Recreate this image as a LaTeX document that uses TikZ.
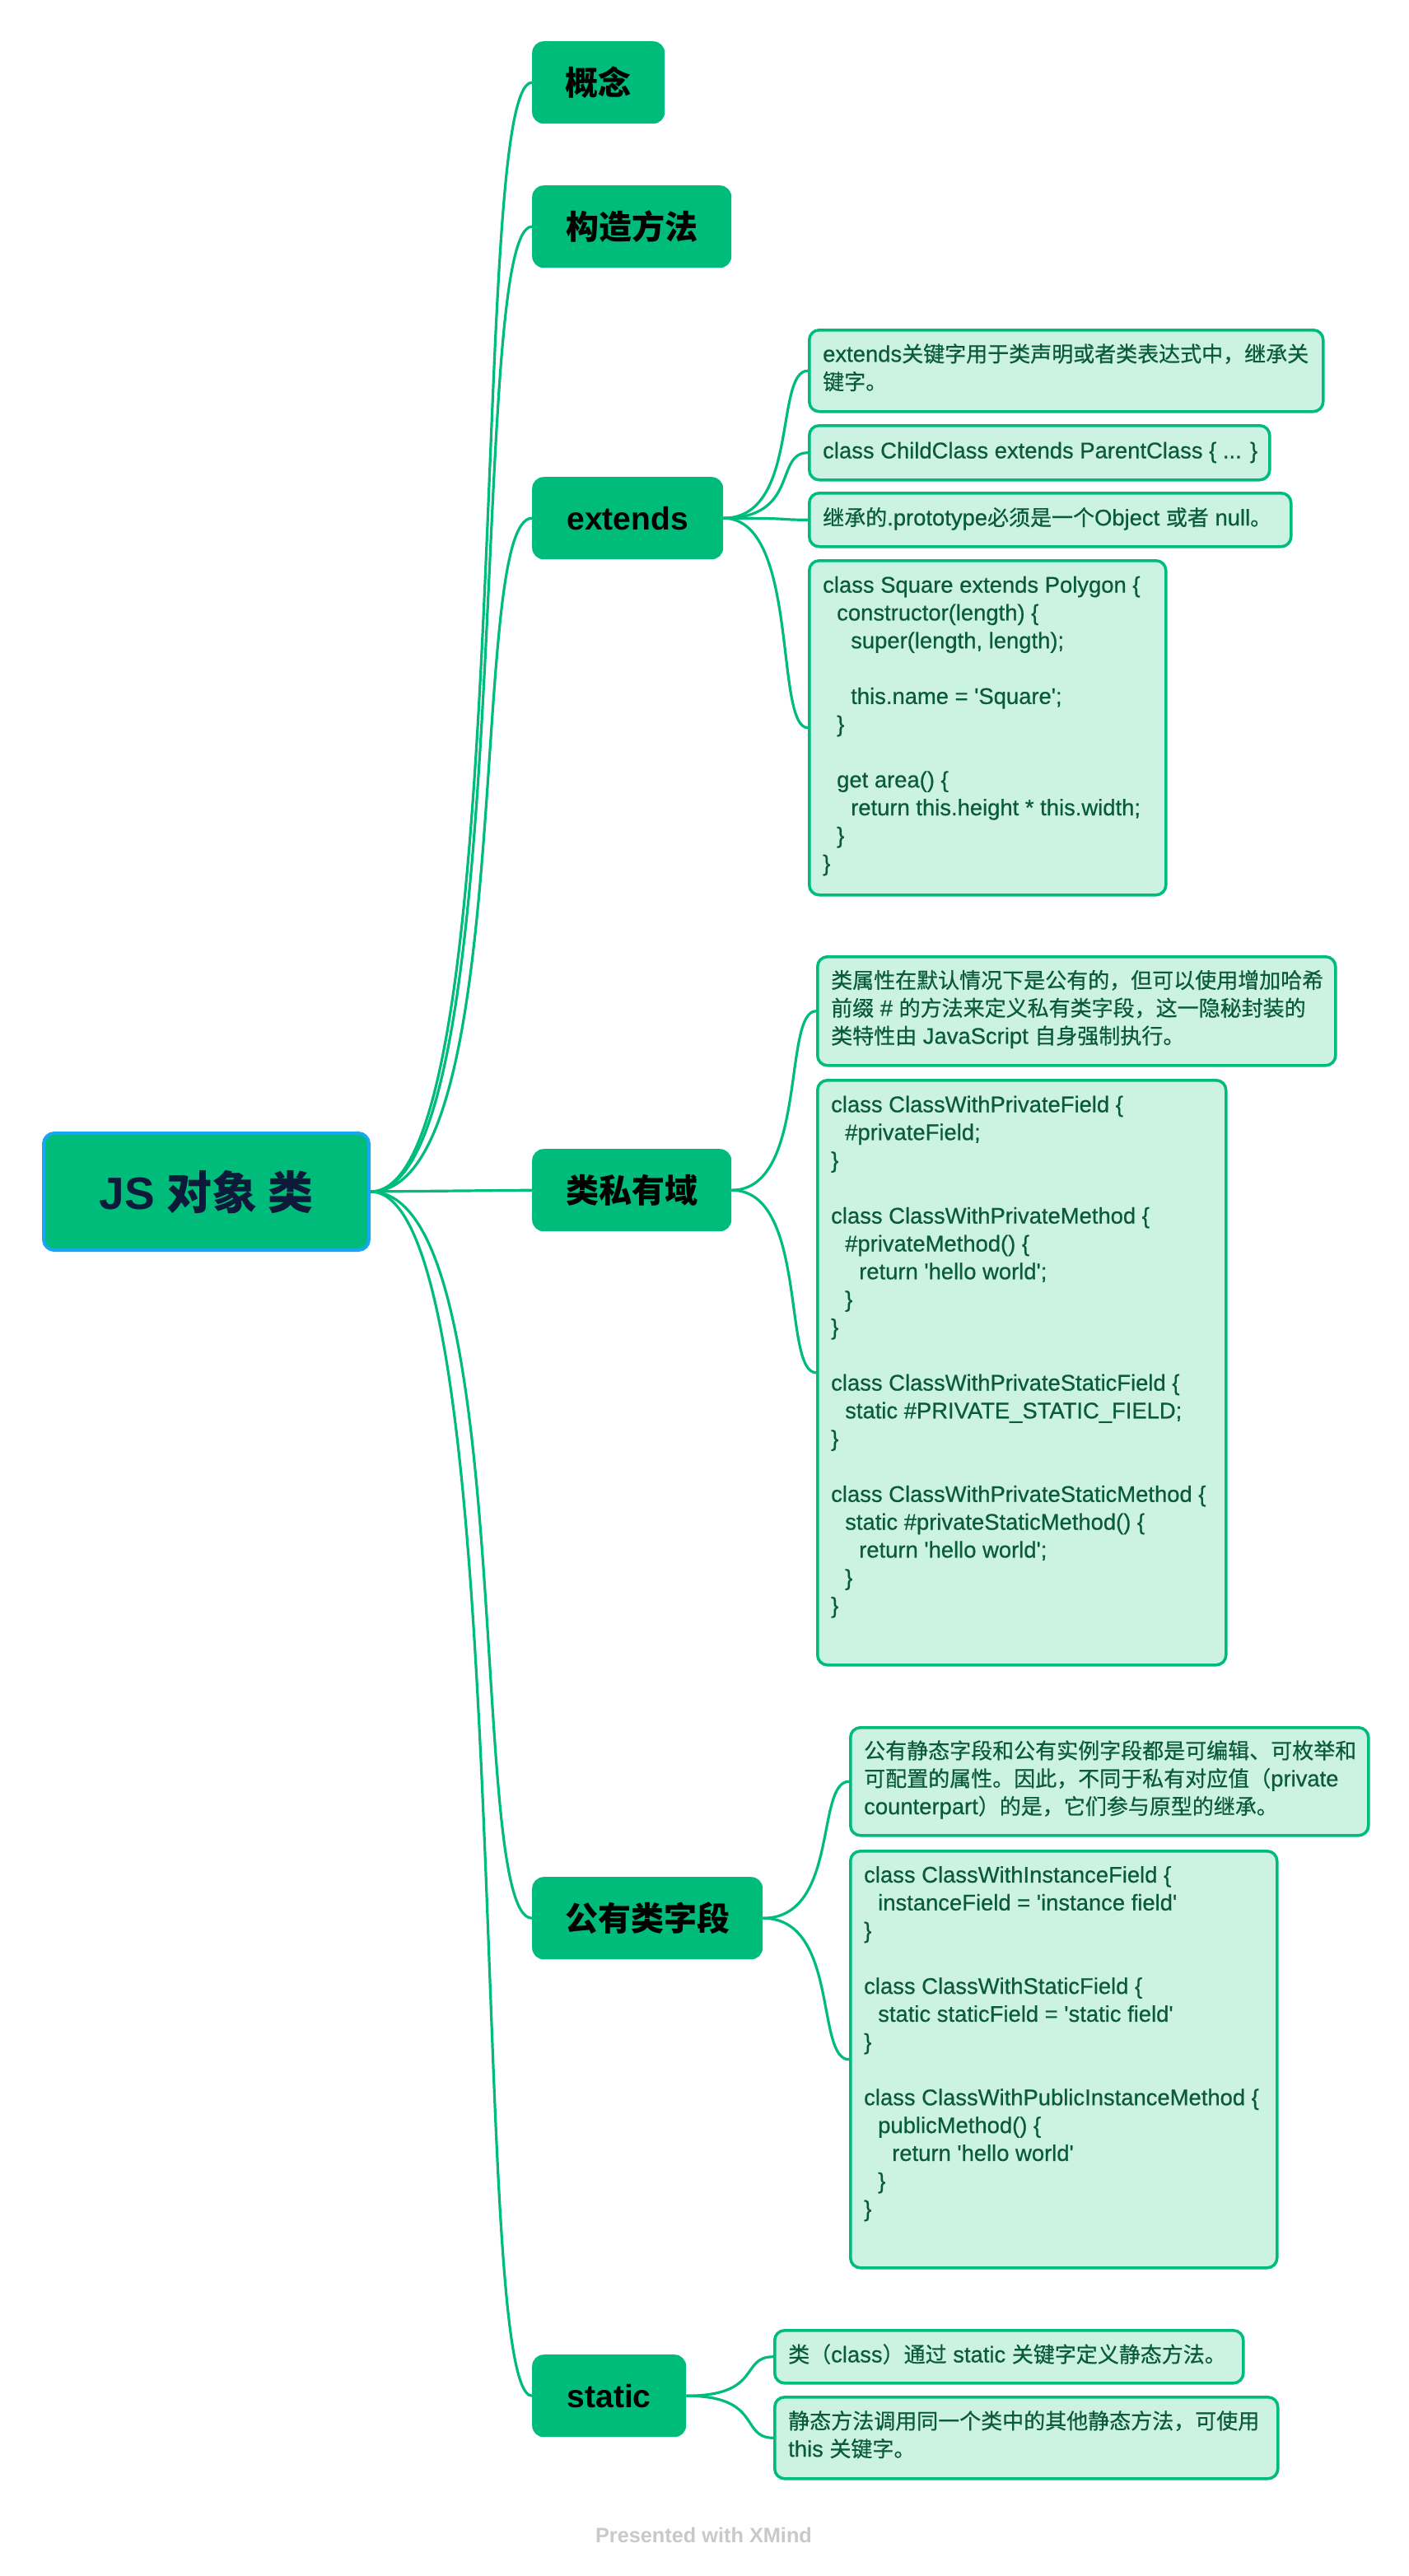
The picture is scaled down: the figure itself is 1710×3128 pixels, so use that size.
\documentclass[tikz,border=0pt]{standalone}
\usepackage{fontspec}
\setmainfont{Liberation Sans}
\newfontfamily\latf{Liberation Sans}
\newfontfamily\cjk{Noto Sans CJK SC}
% slightly heavier faces for the note text
\newfontfamily\latm{Liberation Sans}[FakeBold=0.6]
\newfontfamily\cjkm{Noto Sans CJK SC}[FakeBold=0.6]
\usetikzlibrary{backgrounds}

\definecolor{topicgreen}{HTML}{00BC7B}
\definecolor{rootblue}{HTML}{16A6F3}
\definecolor{leaffill}{HTML}{CCF2E4}
\definecolor{leafink}{HTML}{0A5A3C}
\definecolor{rootink}{HTML}{0D1A3A}
\definecolor{markink}{HTML}{C9C9C9}

% Latin run inside a CJK note
\newcommand\lat[1]{{\latm\fontsize{27.4}{33.8}\selectfont #1}}
% code indentation steps
\newcommand\indA{\hspace*{17pt}}
\newcommand\indB{\hspace*{34pt}}
\newcommand\gap{33.8pt}

\tikzset{
  rootbox/.style={draw=rootblue, line width=4pt, fill=topicgreen, rounded corners=13pt,
    text=rootink, anchor=north west, inner sep=0pt, minimum width=395pt, minimum height=142pt},
  topic/.style={fill=topicgreen, rounded corners=14pt, text=black, anchor=north west,
    inner sep=0pt, minimum height=100pt},
  topiccjk/.style={topic, font=\cjk\bfseries\fontsize{40}{48}\selectfont},
  topiclat/.style={topic, font=\latf\bfseries\fontsize{39}{48}\selectfont},
  leafbox/.style={draw=topicgreen, line width=3.5pt, fill=leaffill, rounded corners=12pt,
    anchor=north west, inner sep=0pt},
  codetext/.style={anchor=west, align=left, text=leafink, inner sep=0pt,
    font=\latm\fontsize{27.4}{33.8}\selectfont,
    execute at begin node=\strut, execute at end node=\strut},
  cjktext/.style={codetext, font=\cjkm\fontsize{26}{33.8}\selectfont},
  link/.style={draw=topicgreen, line width=3.2pt},
}

\begin{document}
\begin{tikzpicture}[x=1pt, y=-1pt]
\useasboundingbox (0,0) rectangle (1710,3128);

% central topic
\node[rootbox] (root) at (51,1374)
  {{\latf\bfseries\fontsize{55}{60}\selectfont JS }{\cjk\bfseries\fontsize{55}{60}\selectfont 对象 类}};

% main topics
\node[topiccjk, minimum width=161pt] (concept) at (646,50)   {概念};
\node[topiccjk, minimum width=242pt] (ctor)    at (646,225)  {构造方法};
\node[topiclat, minimum width=232pt] (ext)     at (646,579)  {extends};
\node[topiccjk, minimum width=242pt] (priv)    at (646,1395) {类私有域};
\node[topiccjk, minimum width=280pt] (pub)     at (646,2279) {公有类字段};
\node[topiclat, minimum width=187pt] (stat)    at (646,2859) {static};

% extends
\node[leafbox, minimum width=624pt, minimum height=99pt] (e1) at (981,399) {};
\node[cjktext] (e1t) at ([xshift=18pt]e1.west)
  {\lat{extends}关键字用于类声明或者类表达式中，继承关\\键字。};
\node[leafbox, minimum width=559pt, minimum height=66pt] (e2) at (981,515) {};
\node[codetext] (e2t) at ([xshift=18pt]e2.west)
  {class ChildClass extends ParentClass \{ ... \}};
\node[leafbox, minimum width=585pt, minimum height=65pt] (e3) at (981,597) {};
\node[cjktext] (e3t) at ([xshift=18pt]e3.west)
  {继承的\lat{.prototype}必须是一个\lat{Object }或者\lat{ null}。};
\node[leafbox, minimum width=433pt, minimum height=406pt] (e4) at (981,679) {};
\node[codetext] (e4t) at ([xshift=18pt]e4.west)
  {class Square extends Polygon \{\\
   \indA constructor(length) \{\\
   \indB super(length, length);\\[\gap]
   \indB this.name = 'Square';\\
   \indA\}\\[\gap]
   \indA get area() \{\\
   \indB return this.height * this.width;\\
   \indA\}\\
   \}};

% private fields
\node[leafbox, minimum width=629pt, minimum height=132pt] (p1) at (991,1160) {};
\node[cjktext] (p1t) at ([xshift=18pt]p1.west)
  {类属性在默认情况下是公有的，但可以使用增加哈希\\
   前缀\lat{ \# }的方法来定义私有类字段，这一隐秘封装的\\
   类特性由\lat{ JavaScript }自身强制执行。};
\node[leafbox, minimum width=496pt, minimum height=710pt] (p2) at (991,1310) {};
\node[codetext] (p2t) at ([xshift=18pt,yshift=16.9pt]p2.west)
  {class ClassWithPrivateField \{\\
   \indA\#privateField;\\
   \}\\[\gap]
   class ClassWithPrivateMethod \{\\
   \indA\#privateMethod() \{\\
   \indB return 'hello world';\\
   \indA\}\\
   \}\\[\gap]
   class ClassWithPrivateStaticField \{\\
   \indA static \#PRIVATE\_STATIC\_FIELD;\\
   \}\\[\gap]
   class ClassWithPrivateStaticMethod \{\\
   \indA static \#privateStaticMethod() \{\\
   \indB return 'hello world';\\
   \indA\}\\
   \}};

% public fields
\node[leafbox, minimum width=629pt, minimum height=131pt] (f1) at (1031,2096) {};
\node[cjktext] (f1t) at ([xshift=18pt]f1.west)
  {公有静态字段和公有实例字段都是可编辑、可枚举和\\
   可配置的属性。因此，不同于私有对应值（\lat{private}\\
   \lat{counterpart}）的是，它们参与原型的继承。};
\node[leafbox, minimum width=518pt, minimum height=506pt] (f2) at (1031,2246) {};
\node[codetext] (f2t) at ([xshift=18pt,yshift=16.9pt]f2.west)
  {class ClassWithInstanceField \{\\
   \indA instanceField = 'instance field'\\
   \}\\[\gap]
   class ClassWithStaticField \{\\
   \indA static staticField = 'static field'\\
   \}\\[\gap]
   class ClassWithPublicInstanceMethod \{\\
   \indA publicMethod() \{\\
   \indB return 'hello world'\\
   \indA\}\\
   \}};

% static
\node[leafbox, minimum width=569pt, minimum height=64pt] (s1) at (939,2828) {};
\node[cjktext] (s1t) at ([xshift=18pt]s1.west)
  {类（\lat{class}）通过\lat{ static }关键字定义静态方法。};
\node[leafbox, minimum width=611pt, minimum height=99pt] (s2) at (939,2909) {};
\node[cjktext] (s2t) at ([xshift=18pt]s2.west)
  {静态方法调用同一个类中的其他静态方法，可使用\\
   \lat{this }关键字。};

% footer
\node[font=\latf\bfseries\fontsize{25.3}{30}\selectfont, text=markink, anchor=base,
  inner sep=0pt] (mark) at (854.5,3087) {Presented with XMind};

% connectors
\begin{pgfonlayer}{background}
\fill[white] (0,0) rectangle (1710,3128);
\draw[link] (root.east) .. controls +(181,0) and +(-80,0) .. (concept.west);
\draw[link] (root.east) .. controls +(181,0) and +(-80,0) .. (ctor.west);
\draw[link] (root.east) .. controls +(181,0) and +(-80,0) .. (ext.west);
\draw[link] (root.east) -- (priv.west);
\draw[link] (root.east) .. controls +(181,0) and +(-80,0) .. (pub.west);
\draw[link] (root.east) .. controls +(181,0) and +(-80,0) .. (stat.west);

\draw[link] (ext.east) .. controls +(93,0) and +(-41,0) .. (e1.west);
\draw[link] (ext.east) .. controls +(93,0) and +(-41,0) .. (e2.west);
\draw[link] (ext.east) .. controls +(93,0) and +(-41,0) .. (e3.west);
\draw[link] (ext.east) .. controls +(93,0) and +(-41,0) .. (e4.west);

\draw[link] (priv.east) .. controls +(93,0) and +(-41,0) .. (p1.west);
\draw[link] (priv.east) .. controls +(93,0) and +(-41,0) .. (p2.west);

\draw[link] (pub.east) .. controls +(93,0) and +(-41,0) .. (f1.west);
\draw[link] (pub.east) .. controls +(93,0) and +(-41,0) .. (f2.west);

\draw[link] (stat.east) .. controls +(93,0) and +(-41,0) .. (s1.west);
\draw[link] (stat.east) .. controls +(93,0) and +(-41,0) .. (s2.west);
\end{pgfonlayer}
\end{tikzpicture}
\end{document}
